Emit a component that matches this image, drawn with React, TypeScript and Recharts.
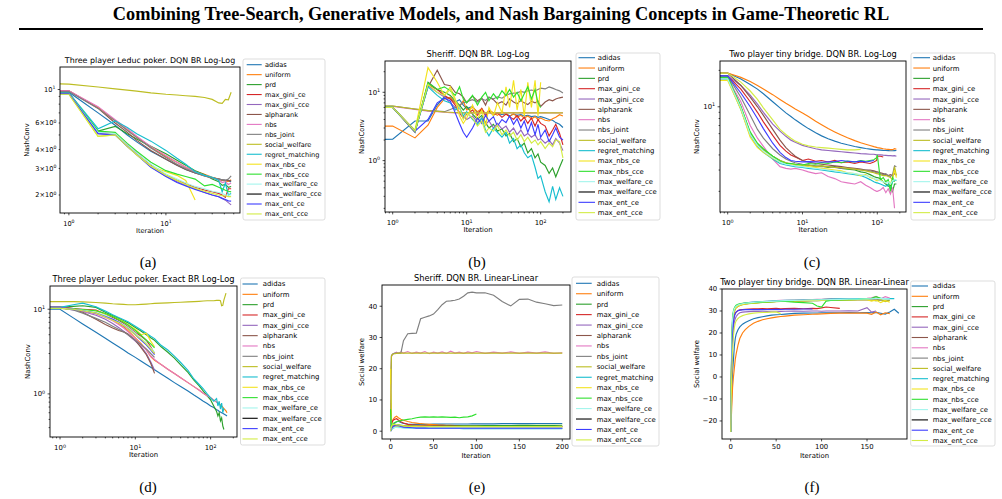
import { LineChart, Line, XAxis, YAxis } from 'recharts';

const METHODS = [
  'adidas', 'uniform', 'prd', 'max_gini_ce', 'max_gini_cce', 'alpharank', 'nbs', 'nbs_joint',
  'social_welfare', 'regret_matching', 'max_nbs_ce', 'max_nbs_cce', 'max_welfare_ce',
  'max_welfare_cce', 'max_ent_ce', 'max_ent_cce',
];
const COLORS = [
  '#1f77b4', '#ff7f0e', '#2ca02c', '#d62728', '#9467bd', '#8c564b', '#e377c2', '#7f7f7f',
  '#bcbd22', '#17becf', '#f3e31f', '#2fe02f', '#a3f5ec', '#000000', '#3d3dff', '#d3ec45',
];

// rows follow METHODS order; a short row stops early, an empty row has no run

// (a) three player Leduc poker, DQN best response
const leducDqnIters = [0.8, 1, 2, 3, 4, 5, 7, 10, 13, 16, 20, 25, 30, 35, 38, 41, 44, 47];
const leducDqnNashConv: number[][] = [
  [9.6, 9.6, 7.0, 5.8, 5.0, 4.5, 3.9, 3.45, 3.15, 2.95, 2.8, 2.7, 2.6, 2.55, 2.52, 2.5, 2.47, 2.45],
  [9.8, 9.8, 7.6, 6.2, 5.4, 4.85, 4.15, 3.6, 3.3, 3.05, 2.88, 2.74, 2.62, 2.55, 2.5, 2.48, 2.46, 2.52],
  [9.5, 9.5, 5.3, 5.7, 5.1, 4.7, 4.2, 3.75, 3.4, 3.15, 2.9, 2.72, 2.55, 2.45, 2.32, 2.35, 2.25, 2.28],
  [9.5, 9.5, 5.2, 5.1, 4.3, 3.8, 3.15, 2.72, 2.5, 2.38, 2.25, 2.16, 2.1, 2.05, 2.0, 1.93, 2.2, 2.2],
  [9.4, 9.4, 5.1, 5.0, 4.2, 3.7, 3.08, 2.66, 2.45, 2.32, 2.2, 2.08, 2.0, 1.95, 1.9, 1.85, 1.78, 1.72],
  [9.8, 9.8, 7.5, 6.0, 5.2, 4.6, 3.95, 3.45, 3.15, 2.95, 2.8, 2.68, 2.6, 2.55, 2.52, 2.5, 2.5, 2.48],
  [9.8, 9.8, 7.7, 6.3, 5.5, 4.9, 4.2, 3.65, 3.3, 3.05, 2.85, 2.7, 2.6, 2.52, 2.42, 2.45, 2.35, 2.4],
  [9.7, 9.7, 7.5, 6.2, 5.35, 4.8, 4.1, 3.55, 3.2, 3.0, 2.82, 2.68, 2.6, 2.55, 2.52, 2.5, 2.55, 2.68],
  [10.9, 10.85, 10.4, 10.1, 9.9, 9.75, 9.5, 9.3, 9.2, 9.1, 9.0, 8.85, 8.6, 8.15, 8.1, 8.6, 8.55, 9.6],
  [9.5, 9.5, 5.5, 6.2, 5.6, 5.1, 4.55, 3.95, 3.5, 3.2, 2.85, 2.7, 2.62, 2.5, 2.1, 2.4, 2.0, 2.05],
  [9.3, 9.3, 4.9, 5.0, 4.2, 3.7, 3.1, 2.85, 2.7, 2.5, 1.85],
  [9.4, 9.4, 5.3, 5.2, 4.4, 3.9, 3.3, 2.9, 2.75, 2.65, 2.55, 2.3, 2.35, 2.25, 2.2, 2.15, 2.12, 2.1],
  [9.4, 9.4, 5.2, 5.1, 4.3, 3.8, 3.2, 2.75, 2.55, 2.4, 2.28, 2.2, 2.12, 2.08, 2.05, 2.0, 2.0, 2.0],
  [],
  [9.4, 9.4, 5.1, 5.0, 4.2, 3.7, 3.05, 2.65, 2.42, 2.3, 2.18, 2.08, 2.0, 1.95, 1.9, 1.87, 1.83, 1.82],
  [9.3, 9.3, 4.9, 5.0, 4.2, 3.7, 3.1, 2.7, 2.5, 2.35, 2.22, 2.12, 2.05, 2.0, 1.98, 1.97, 1.95, 1.95],
];

// (b) Sheriff, DQN best response
const sheriffIters = [0.78, 1, 2, 3, 4, 5, 6, 7, 8, 9, 10, 12, 14, 16, 18, 20, 23, 26, 30, 34, 38, 43, 48, 54, 60, 67, 75, 84, 92, 100, 115, 130, 145, 160, 180, 200];
const sheriffNashConv: number[][] = [
  [2.05, 2.06, 3.8, 3.8, 6.5, 8.6, 8.0, 7.2, 7.8, 6.5, 5.8, 6.2, 5.0, 5.6, 4.8, 5.3, 4.6, 5.0, 4.7, 4.9, 4.5, 4.8, 4.6, 4.7, 4.5, 4.6, 4.4, 4.5, 4.3, 4.4, 4.2, 4.0, 3.9, 3.6, 3.4, 3.05],
  [3.2, 3.2, 2.15, 3.3, 6.0, 8.0, 8.5, 7.0, 6.2, 7.5, 5.5, 6.0, 5.2, 5.8, 4.8, 5.5, 5.0, 4.6, 5.2, 4.8, 4.4, 4.9, 4.3, 4.6, 4.2, 4.5, 4.1, 4.4, 4.0, 4.2, 3.9, 3.8, 4.1, 4.3, 4.7, 4.5],
  [6.0, 6.0, 2.6, 14.0, 11.0, 10.0, 9.0, 7.5, 6.5, 5.5, 6.2, 4.8, 4.0, 4.6, 3.6, 3.0, 3.4, 2.7, 2.9, 2.3, 2.5, 1.9, 2.1, 1.6, 1.8, 1.3, 1.5, 1.1, 1.25, 0.95, 0.85, 0.65, 0.78, 0.58, 0.8, 1.05],
  [6.0, 6.0, 2.7, 13.0, 11.0, 9.0, 8.0, 6.5, 5.0, 4.2, 4.8, 5.5, 4.6, 5.8, 4.5, 5.2, 4.7, 5.0, 4.3, 4.8, 4.4, 4.0, 4.6, 3.8, 4.3, 3.5, 4.2, 3.2, 4.0, 3.5, 3.2, 2.3, 2.8, 3.4, 2.5, 1.7],
  [6.0, 6.0, 2.6, 12.5, 10.0, 8.5, 7.0, 6.0, 5.0, 4.5, 4.0, 4.5, 3.6, 4.2, 3.4, 3.8, 3.0, 3.5, 2.9, 3.2, 2.6, 3.0, 2.4, 2.8, 2.3, 2.5, 2.2, 2.4, 2.0, 2.1, 1.8, 2.0, 1.7, 2.1, 1.8, 1.4],
  [6.0, 6.0, 2.7, 12.0, 21.0, 13.0, 12.5, 10.0, 9.5, 8.5, 7.0, 8.8, 7.5, 8.2, 6.5, 8.5, 7.8, 6.8, 7.3, 6.5, 8.0, 7.2, 6.8, 7.6, 7.0, 6.6, 7.4, 7.0, 7.5, 6.2, 7.2, 7.8, 7.5, 8.0, 8.3, 8.5],
  [6.2, 6.2, 5.6, 5.3, 5.2, 5.1, 5.05, 5.0, 5.0, 5.02, 4.98, 5.0, 5.03, 4.97, 5.0, 5.02, 4.98, 5.0, 5.03, 4.98, 5.0, 5.02, 4.97, 5.0, 5.03, 4.98, 5.0, 5.02, 4.98, 5.0, 5.03, 4.97, 5.0, 5.02, 4.98, 5.0],
  [6.3, 6.3, 5.7, 5.4, 5.3, 5.2, 5.6, 6.0, 6.5, 7.0, 7.3, 7.8, 7.2, 8.0, 7.6, 8.4, 8.0, 8.6, 8.2, 9.0, 9.5, 9.7, 9.8, 10.3, 10.0, 10.5, 10.8, 10.5, 11.0, 11.5, 11.2, 12.0, 11.5, 11.0, 10.5, 9.8],
  [6.3, 6.3, 5.7, 5.4, 5.25, 5.15, 5.1, 5.05, 5.02, 5.0, 5.0, 5.0, 5.0, 5.0, 5.0, 5.0, 5.0, 5.0, 5.0, 5.0, 5.0, 5.0, 5.0, 5.0, 5.0, 5.0, 5.0, 5.0, 5.0, 5.0, 5.0, 5.0, 5.0, 5.0, 5.0, 5.0],
  [6.0, 6.0, 2.7, 12.0, 9.0, 7.5, 7.0, 5.5, 6.0, 4.5, 5.2, 4.0, 3.4, 4.2, 2.8, 2.3, 3.0, 2.6, 2.2, 2.6, 1.8, 2.1, 1.5, 1.7, 1.3, 1.1, 1.2, 0.8, 0.55, 0.6, 0.35, 0.25, 0.42, 0.27, 0.4, 0.3],
  [6.0, 6.0, 2.8, 23.0, 14.0, 9.0, 12.0, 8.0, 4.5, 3.5, 4.2, 6.5, 4.0, 5.5, 3.2, 6.0, 4.5, 7.0, 5.0, 12.0, 6.0, 15.0, 5.5, 11.0, 4.5, 14.0, 6.0, 15.0, 4.5, 14.0],
  [6.0, 6.0, 2.7, 13.5, 11.0, 12.0, 10.5, 9.0, 12.0, 8.0, 7.0, 9.0, 6.5, 8.5, 10.0, 7.5, 9.5, 8.0, 10.5, 9.0, 11.0, 8.5, 10.0, 7.5, 9.5, 12.0, 8.0, 11.0, 7.0, 6.0],
  [],
  [],
  [6.0, 6.0, 2.7, 4.0, 7.0, 8.2, 7.5, 5.0, 3.5, 2.6, 2.2, 3.0, 4.2, 3.5, 4.6, 3.8, 4.4, 3.2, 4.0, 3.6, 4.5, 3.4, 4.1, 3.0, 3.8, 2.6, 3.6, 2.4, 3.4, 2.2, 2.8, 1.9, 2.4, 3.0, 2.2, 2.0],
  [6.0, 6.0, 2.7, 13.0, 10.0, 9.0, 11.0, 7.5, 6.0, 4.0, 5.0, 4.2, 3.2, 3.8, 2.6, 3.0, 2.7, 3.3, 2.4, 2.8, 2.3, 2.6, 2.0, 2.4, 1.9, 2.2, 1.8, 2.0, 1.7, 1.9, 1.5, 1.8, 1.6, 2.0, 1.9, 1.1],
];

// (c) two player tiny bridge, DQN best response
const bridgeIters = [0.78, 1, 1.5, 2, 2.5, 3, 4, 5, 6, 7, 8, 10, 12, 15, 18, 22, 27, 33, 40, 50, 60, 70, 80, 90, 98, 100, 110, 120, 130, 140, 150, 160, 170, 180];
const bridgeNashConv: number[][] = [
  [19, 19, 17, 15.3, 14, 12.8, 11, 9.8, 8.9, 8.3, 7.8, 7.1, 6.6, 6.1, 5.75, 5.45, 5.2, 5.0, 4.85, 4.7, 4.6, 4.52, 4.47, 4.43, 4.4, 4.4, 4.38, 4.36, 4.35, 4.34, 4.33, 4.33, 4.34, 4.35],
  [19, 19, 17.5, 16.2, 15.0, 14.0, 12.6, 11.5, 10.7, 10.1, 9.6, 8.9, 8.3, 7.6, 7.1, 6.6, 6.2, 5.85, 5.55, 5.25, 5.05, 4.9, 4.78, 4.68, 4.62, 4.6, 4.55, 4.5, 4.47, 4.45, 4.43, 4.42, 4.5, 4.45],
  [18, 18, 10, 6.0, 4.9, 4.4, 3.9, 3.6, 3.45, 3.35, 3.3, 3.25, 3.3, 3.2, 3.25, 3.15, 3.2, 3.1, 3.05, 3.0, 2.9, 2.85, 2.75, 2.65, 2.6, 2.6, 2.55, 2.4, 2.3, 2.2, 2.25, 2.0, 2.3, 2.3],
  [18, 18, 14, 11, 9, 7.5, 5.8, 4.8, 4.3, 4.0, 3.85, 3.6, 3.7, 3.55, 3.6, 3.5, 3.6, 3.45, 3.5, 3.4, 3.5, 3.45, 3.4, 3.5, 3.6, 3.9, 3.9, 3.85],
  [18, 18, 15, 12.5, 10.5, 9, 7.2, 6.3, 5.7, 5.3, 5.1, 4.8, 4.65, 4.5, 4.4, 4.35, 4.3, 4.25, 4.2, 4.15, 4.1, 4.08, 4.05, 4.05, 4.0, 4.0, 4.0, 3.98, 3.97, 3.95, 3.95, 3.93, 3.95, 3.9],
  [19, 19, 15, 12, 10, 8.5, 6.5, 5.3, 4.6, 4.2, 3.9, 3.6, 3.5, 3.4, 3.35, 3.3, 3.25, 3.2, 3.15, 3.1, 3.05, 3.0, 3.0, 2.95, 2.9, 2.9, 2.85, 2.8, 2.75, 2.7, 2.75, 2.7, 2.8, 2.75],
  [17, 17, 11, 7.0, 5.5, 4.7, 3.7, 3.2, 3.1, 3.05, 3.1, 3.0, 2.9, 2.8, 2.85, 2.65, 2.55, 2.4, 2.35, 2.3, 2.4, 2.25, 2.15, 2.05, 2.0, 2.0, 2.05, 2.15, 1.95, 2.1, 1.9, 2.15, 1.45],
  [18, 18, 12, 8.5, 6.5, 5.5, 4.5, 4.0, 3.7, 3.55, 3.45, 3.35, 3.3, 3.25, 3.2, 3.2, 3.15, 3.1, 3.1, 3.05, 3.0, 3.0, 2.95, 2.9, 2.85, 2.85, 2.8, 2.75, 2.8, 2.7, 2.65, 2.75, 3.25, 3.2],
  [17, 17, 10, 6.0, 4.9, 4.4, 3.9, 3.6, 3.45, 3.4, 3.35, 3.3, 3.3, 3.2, 3.25, 3.2, 3.15, 3.15, 3.1, 3.05, 3.0, 2.95, 2.9, 2.85, 2.8, 2.8, 2.75, 2.7, 2.7, 2.65, 2.6, 2.5, 3.2, 2.7],
  [17, 17, 9.5, 5.8, 4.7, 4.2, 3.7, 3.4, 3.3, 3.25, 3.2, 3.15, 3.1, 3.05, 3.0, 2.95, 2.9, 2.85, 2.8, 2.75, 2.7, 2.6, 2.5, 2.4, 2.35, 2.35, 2.3, 2.25, 2.2, 2.3, 2.1, 2.4, 2.5, 2.45],
  [16.5, 16.5, 9.5, 5.6, 4.6, 4.2, 3.75, 3.5, 3.4, 3.35, 3.3, 3.25, 3.2, 3.15, 3.1, 3.05, 3.0, 2.95, 2.85, 2.8, 2.7, 2.75, 2.6, 2.55, 2.45, 2.45, 2.5, 2.4, 2.35, 2.45, 2.3, 2.6, 3.0, 2.6],
  [17.5, 17.5, 10, 6.2, 5.0, 4.5, 3.9, 3.55, 3.4, 3.4, 3.35, 3.3, 3.4, 3.35, 3.45, 3.4, 3.5, 3.45, 3.55, 3.5, 3.6, 3.55, 3.6, 3.65, 3.8, 4.0, 2.5, 2.6, 2.4, 2.5, 2.0, 2.6, 2.4],
  [17, 17, 9.8, 5.9, 4.8, 4.3, 3.8, 3.5, 3.35, 3.3, 3.25, 3.2, 3.15, 3.1, 3.05, 3.0, 2.95, 2.9, 2.85, 2.8, 2.75, 2.7, 2.65, 2.55, 2.5, 2.5, 2.45, 2.4, 2.35, 2.4, 2.3, 2.45, 2.5, 2.5],
  [],
  [18, 18, 13, 10, 8, 6.6, 5.0, 4.2, 3.8, 3.6, 3.55, 3.5, 3.52, 3.5, 3.48, 3.5, 3.52, 3.6, 3.55, 3.5, 3.55, 3.5, 3.55, 3.6],
  [19, 19, 16, 13.5, 11.5, 9.8, 7.8, 6.5, 5.9, 5.5, 5.2, 4.9, 4.75, 4.65, 4.6, 4.55, 4.5, 4.45, 4.4, 4.4, 4.45],
];

// (d) three player Leduc poker, exact best response
const leducExactIters = [0.7, 1, 1.5, 2, 3, 4, 5, 6, 7, 8, 10, 12, 14, 16, 18, 22, 27, 33, 40, 50, 60, 70, 80, 90, 100, 110, 120, 125, 130, 135, 140, 145, 150, 160, 165];
const leducExactNashConv: number[][] = [
  [10, 10, 7.9, 6.7, 5.35, 4.55, 4.0, 3.6, 3.3, 3.05, 2.7, 2.43, 2.22, 2.06, 1.93, 1.72, 1.53, 1.36, 1.22, 1.08, 0.97, 0.89, 0.82, 0.77, 0.72, 0.69, 0.65, 0.64, 0.62, 0.61, 0.6, 0.59, 0.58, 0.56, 0.55],
  [10.5, 10.5, 10.0, 9.6, 9.0, 8.2, 7.5, 6.8, 6.2, 5.6, 4.6, 3.9, 3.3, 2.75, 2.5, 2.22, 1.96, 1.74, 1.55, 1.36, 1.22, 1.11, 1.02, 0.95, 0.9, 0.845, 0.8, 0.78, 0.76, 0.74, 0.72, 0.7, 0.67, 0.63, 0.6],
  [10.5, 10.5, 10.8, 11.0, 10.5, 9.2, 8.4, 7.8, 7.3, 6.9, 6.1, 5.5, 5.0, 4.6, 4.3, 3.6, 3.1, 2.65, 2.2, 1.8, 1.45, 1.25, 1.08, 0.95, 0.85, 0.72, 0.62, 0.55, 0.6, 0.48, 0.52, 0.42, 0.38],
  [10.5, 10.5, 10.2, 10.0, 9.8, 8.8, 8.0, 7.4, 6.8, 6.2, 5.3, 4.8, 4.3, 3.6, 3.0],
  [10.3, 10.3, 9.8, 9.4, 8.5, 7.6, 6.8, 6.1, 5.5, 5.0, 4.2, 3.6, 3.0, 2.4, 1.9],
  [10.6, 10.6, 10.2, 9.2, 7.6, 6.6, 6.0, 5.6, 5.4, 5.1, 4.3, 3.5, 2.9, 2.3, 1.75],
  [10.5, 10.5, 10.0, 9.5, 8.8, 8.0, 7.3, 6.6, 6.0, 5.4, 4.5, 3.8, 3.3, 2.8, 2.55, 2.22, 1.96, 1.74, 1.55, 1.36, 1.22, 1.11, 1.02, 0.95, 0.9, 0.845, 0.8, 0.78],
  [10.4, 10.4, 9.8, 9.0, 7.8, 7.0, 6.3, 5.8, 5.4, 5.0, 4.3, 3.8, 3.4, 3.0, 2.7],
  [12.3, 12.3, 12.3, 12.2, 12.0, 11.8, 11.6, 11.5, 11.4, 11.3, 11.3, 11.4, 11.5, 11.6, 11.7, 11.8, 11.9, 12.0, 12.1, 12.2, 12.3, 12.4, 12.5, 12.6, 12.6, 12.6, 12.7, 12.7, 12.7, 12.6, 11.0, 11.1, 12.8, 15.5],
  [10.5, 10.5, 11.3, 11.8, 10.7, 9.5, 8.6, 8.0, 7.5, 7.1, 6.3, 5.7, 5.2, 4.8, 4.5, 3.75, 3.3, 2.8, 2.35, 1.9, 1.5, 1.3, 1.15, 1.0, 0.9, 0.82, 0.88, 0.72, 0.82, 0.66, 0.78, 0.6, 0.68],
  [10.2, 10.2, 10.0, 9.8, 9.5, 8.8, 8.2, 7.6, 7.1, 6.6, 5.8, 5.0, 5.2, 4.2, 3.6],
  [10.3, 10.3, 10.1, 9.9, 9.6, 8.9, 8.2, 7.5, 7.0, 6.5, 5.6, 4.9, 4.3, 3.9, 3.5],
  [10.4, 10.4, 10.0, 9.7, 9.2, 8.4, 7.7, 7.1, 6.6, 6.1, 5.2, 4.5, 4.0, 3.5, 3.1],
  [],
  [10.5, 10.5, 10.0, 9.6, 9.0, 8.2, 7.6, 7.0, 6.4, 5.9, 5.0, 4.3, 3.8, 3.3, 2.9],
  [10.3, 10.3, 10.0, 9.6, 9.0, 8.1, 7.4, 6.9, 6.4, 5.9, 5.0, 4.4, 3.9, 3.4, 3.0],
];

// (e) Sheriff, social welfare
const sheriffWelfareIters = [0, 1, 2, 3, 5, 7, 9, 12, 15, 20, 25, 30, 35, 40, 45, 50, 55, 60, 65, 70, 75, 80, 85, 90, 95, 100, 110, 120, 130, 140, 150, 160, 170, 180, 190, 200];
const sheriffWelfare: number[][] = [
  [2, 1.2, 1.8, 2.2, 2.6, 3.0, 3.2, 2.8, 2.5, 2.3, 2.2, 2.2, 2.2, 2.2, 2.2, 2.25, 2.25, 2.25, 2.3, 2.3, 2.3, 2.3, 2.3, 2.3, 2.35, 2.35, 2.35, 2.35, 2.4, 2.4, 2.4, 2.4, 2.45, 2.45, 2.45, 2.45],
  [12, 2.0, 3.0, 3.8, 4.5, 4.8, 4.3, 3.8, 3.5, 3.1, 2.8, 2.6, 2.4, 2.3, 2.2, 2.1, 2.0, 1.95, 1.9, 1.85, 1.8, 1.8, 1.75, 1.75, 1.7, 1.7, 1.7, 1.65, 1.65, 1.65, 1.6, 1.6, 1.6, 1.6, 1.55, 1.55],
  [18, 0.5, 1.0, 1.5, 1.8, 2.0, 2.0, 1.9, 1.8, 1.8, 1.8, 1.75, 1.75, 1.75, 1.7, 1.7, 1.7, 1.7, 1.7, 1.7, 1.7, 1.7, 1.75, 1.75, 1.75, 1.75, 1.8, 1.8, 1.8, 1.8, 1.85, 1.85, 1.85, 1.85, 1.85, 1.9],
  [4, 2.5, 3.0, 3.5, 3.8, 4.0, 3.6, 3.0, 2.6, 2.2, 2.0, 1.9, 1.8, 1.7, 1.7, 1.6, 1.6, 1.6, 1.55, 1.55, 1.55, 1.5, 1.5, 1.5, 1.5, 1.5, 1.5, 1.5, 1.5, 1.5, 1.5, 1.5, 1.5, 1.5, 1.5, 1.5],
  [3, 0.8, 1.2, 1.4, 1.5, 1.5, 1.4, 1.3, 1.2, 1.15, 1.1, 1.1, 1.05, 1.05, 1.0, 1.0, 1.0, 1.0, 1.0, 1.0, 1.0, 1.0, 1.0, 1.0, 1.0, 1.0, 1.0, 1.0, 1.0, 1.0, 1.0, 1.0, 1.0, 1.0, 1.0, 1.0],
  [9, 1.0, 1.5, 2.0, 2.2, 2.0, 1.9, 1.8, 1.7, 1.6, 1.55, 1.5, 1.5, 1.5, 1.5, 1.45, 1.45, 1.45, 1.45, 1.45, 1.45, 1.45, 1.45, 1.45, 1.45, 1.45, 1.45, 1.45, 1.45, 1.45, 1.45, 1.45, 1.45, 1.45, 1.45, 1.45],
  [10, 23.8, 24.5, 24.8, 25.0, 25.3, 24.9, 25.4, 25.0, 25.5, 24.9, 25.3, 25.0, 25.5, 24.8, 25.3, 25.0, 25.4, 24.9, 25.6, 25.0, 25.3, 24.9, 25.4, 25.1, 25.5, 24.9, 25.3, 25.0, 25.4, 24.9, 25.3, 25.0, 25.4, 24.9, 25.1],
  [6, 24.2, 24.6, 24.8, 25.0, 25.0, 25.0, 25.0, 29.0, 31.2, 31.3, 31.4, 36.0, 36.5, 36.9, 37.5, 38.9, 40.5, 41.6, 41.7, 41.9, 42.3, 43.2, 44.3, 44.5, 44.3, 44.3, 43.5, 41.5, 40.1, 42.2, 42.3, 41.3, 40.8, 40.2, 40.4],
  [15, 24.0, 24.5, 24.7, 24.8, 24.9, 25.0, 25.0, 25.0, 25.0, 25.0, 25.0, 25.0, 25.0, 25.0, 25.0, 25.0, 25.0, 25.0, 25.0, 25.0, 25.0, 25.0, 25.0, 25.0, 25.0, 25.0, 25.0, 25.0, 25.0, 25.0, 25.0, 25.0, 25.0, 25.0, 25.0],
  [5, 0.5, 0.8, 1.0, 1.2, 1.3, 1.3, 1.2, 1.1, 1.0, 1.0, 0.95, 0.95, 0.9, 0.9, 0.9, 0.9, 0.85, 0.85, 0.85, 0.85, 0.85, 0.8, 0.8, 0.8, 0.8, 0.8, 0.8, 0.8, 0.8, 0.8, 0.8, 0.8, 0.8, 0.8, 0.8],
  [20, 1.0, 1.4, 1.6, 1.7, 1.8, 1.7, 1.6, 1.55, 1.5, 1.45, 1.45, 1.4, 1.4, 1.4, 1.4, 1.35, 1.35, 1.35, 1.35, 1.35, 1.35, 1.3, 1.3, 1.3, 1.3, 1.3, 1.3, 1.3, 1.3, 1.3, 1.3, 1.3, 1.3, 1.3, 1.3],
  [7, 1.5, 2.0, 2.5, 2.8, 3.0, 3.2, 3.4, 3.6, 3.8, 4.0, 4.3, 4.5, 4.6, 4.5, 4.6, 4.5, 4.6, 4.5, 4.4, 4.5, 4.3, 4.5, 4.6, 4.9, 5.5],
  [1, 0.6, 0.9, 1.1, 1.2, 1.2, 1.15, 1.1, 1.05, 1.0, 1.0, 1.0, 1.0, 1.0, 1.0, 1.0, 1.0, 1.0, 1.0, 1.0, 1.0, 1.0, 1.0, 1.0, 1.0, 1.0, 1.0, 1.0, 1.0, 1.0, 1.0, 1.0, 1.0, 1.0, 1.0, 1.0],
  [],
  [0, 0.8, 1.2, 1.5, 1.8, 2.0, 1.8, 1.5, 1.3, 1.2, 1.1, 1.0, 1.0, 1.0, 0.95, 0.95, 0.95, 0.95, 0.95, 0.95, 0.95, 0.95, 0.95, 0.95, 0.95, 0.95, 0.95, 0.95, 0.95, 0.95, 0.95, 0.95, 0.95, 0.95, 0.95, 0.95],
  [0, 1.5, 2.0, 2.2, 2.2, 2.1, 2.0, 1.9, 1.8, 1.7, 1.65, 1.6, 1.6, 1.55, 1.55, 1.5, 1.5, 1.5, 1.5, 1.5, 1.5, 1.5, 1.5, 1.5, 1.5, 1.5, 1.5, 1.5, 1.5, 1.5, 1.5, 1.5, 1.5, 1.5, 1.5, 1.5],
];

// (f) two player tiny bridge, social welfare
const bridgeWelfareIters = [0, 1, 2, 3, 4, 5, 6, 8, 10, 13, 16, 20, 25, 30, 35, 40, 45, 50, 55, 60, 70, 80, 90, 95, 100, 105, 110, 120, 130, 140, 150, 155, 160, 165, 170, 175, 180, 185];
const bridgeWelfare: number[][] = [
  [-25, -10, 2, 7.7, 14, 17.5, 19.5, 21.5, 22.8, 24.0, 24.8, 25.6, 26.5, 27.0, 27.4, 27.8, 28.1, 28.3, 28.4, 28.6, 28.9, 29.0, 29.1, 29.1, 29.2, 29.2, 29.2, 29.2, 29.3, 29.2, 29.3, 29.2, 29.4, 29.0, 28.6, 29.5, 30.8, 29.0],
  [-25, -15, -5, 0, 4, 8, 10.5, 14.5, 17.5, 20, 21.5, 23.0, 24.4, 25.3, 26.0, 26.5, 26.9, 27.2, 27.5, 27.7, 28.1, 28.3, 28.5, 28.6, 28.7, 28.8, 28.9, 29.0, 29.0, 29.1, 29.0, 28.5, 29.5, 28.3, 29.2, 28.8],
  [-25, 10, 25, 29, 30.5, 31.2, 31.8, 32.4, 32.8, 33.2, 33.4, 33.6, 33.8, 34.0, 34.2, 34.3, 34.4, 34.5, 34.6, 34.7, 34.9, 35.0, 35.1, 35.2, 35.2, 35.3, 35.4, 35.5, 35.5, 35.6, 35.7, 35.5, 35.8, 35.6, 35.7, 35.6],
  [-25, 5, 20, 26, 28, 29, 29.6, 30.2, 30.5, 30.7, 30.8, 30.9, 31.0, 31.0, 31.1, 31.0, 31.1, 31.2, 31.0, 31.1, 31.2, 31.0, 31.2, 31.1, 31.4, 31.8, 31.6, 31.2],
  [-25, 0, 15, 22, 25, 26.5, 27.5, 28.6, 29.2, 29.5, 29.6, 29.7, 29.8, 29.8, 29.9, 29.8, 29.9, 29.9, 29.8, 29.9, 30.0, 29.9, 30.0, 30.0, 29.9, 30.0, 30.0, 30.0, 30.1, 30.0, 31.5, 29.5, 30.0],
  [-25, 8, 24, 28.5, 30, 31, 31.6, 32.2, 32.7, 33.1, 33.3, 33.5, 33.7, 33.9, 34.0, 34.1, 34.2, 34.3, 34.4, 34.5, 34.6, 34.7, 34.8, 34.8, 34.9, 34.9, 35.0, 35.0, 35.1, 35.1, 35.2, 35.0, 35.3, 35.1],
  [-25, 9, 25, 29, 30.6, 31.4, 32, 32.6, 33, 33.4, 33.6, 33.8, 34.0, 34.2, 34.3, 34.4, 34.5, 34.7, 34.8, 34.9, 35.0, 35.1, 35.2, 35.3, 35.3, 35.4, 35.5, 35.5, 35.6, 35.7, 35.8, 36.0, 36.6, 35.5, 36.5, 35.9],
  [-25, 7, 23, 28, 30, 31, 31.6, 32.2, 32.6, 33.0, 33.2, 33.4, 33.6, 33.8, 34.0, 34.1, 34.2, 34.3, 34.3, 34.4, 34.5, 34.6, 34.7, 34.7, 34.8, 34.8, 34.9, 35.0, 35.0, 35.1, 35.1, 35.2, 34.8, 35.0, 34.6, 34.8],
  [-25, 6, 23, 28, 30, 31, 31.5, 32.1, 32.5, 32.9, 33.1, 33.3, 33.5, 33.7, 33.9, 34.0, 34.1, 34.2, 34.3, 34.4, 34.5, 34.6, 34.7, 34.7, 34.8, 34.8, 34.9, 35.0, 35.0, 35.1, 35.1, 35.0, 34.6, 35.2, 34.2, 34.8],
  [-25, 11, 26, 29.5, 31, 31.8, 32.3, 32.8, 33.1, 33.4, 33.6, 33.8, 34.0, 34.2, 34.3, 34.4, 34.5, 34.6, 34.7, 34.8, 34.9, 35.0, 35.1, 35.2, 35.2, 35.3, 35.4, 35.5, 35.5, 35.6, 35.6, 35.7, 35.7, 35.8, 35.6, 35.7, 35.6],
  [-25, 8, 24, 28.5, 30.2, 31, 31.6, 32.2, 32.6, 33.0, 33.2, 33.4, 33.6, 33.8, 34.0, 34.1, 34.2, 34.3, 34.4, 34.5, 34.6, 34.7, 34.8, 34.8, 34.9, 34.9, 35.0, 35.0, 35.0, 35.1, 35.1, 34.5, 35.0, 33.8, 34.8, 34.0],
  [-25, 12, 27, 30, 31.4, 32.1, 32.6, 33.0, 33.3, 33.5, 33.6, 33.7, 33.8, 33.9, 34.0, 34.1, 34.2, 34.3, 34.4, 34.4, 34.0, 33.8, 33.5, 32.3, 31.8, 34.5, 34.8, 35.0, 35.2, 35.3, 35.6, 35.8, 36.5, 35.8],
  [-25, 10, 26, 29.5, 31, 31.7, 32.2, 32.7, 33.0, 33.3, 33.5, 33.7, 33.9, 34.1, 34.2, 34.3, 34.4, 34.5, 34.6, 34.7, 34.8, 34.9, 35.0, 35.0, 35.1, 35.1, 35.2, 35.3, 35.4, 35.4, 35.5, 35.5, 35.6, 35.6, 35.6, 35.5],
  [],
  [-25, 2, 18, 25, 27.5, 28.8, 29.5, 30.1, 30.4, 30.5, 30.6, 30.6, 30.6, 30.7, 30.6, 30.7, 30.7, 30.8, 30.7, 30.8, 30.8, 30.9, 30.9],
  [-25, 0, 12, 19, 22.5, 24.5, 25.5, 26.6, 27.3, 27.9, 28.3, 28.7, 29.0, 29.2, 29.3, 29.4, 29.5, 29.6, 28.8],
];

const SANS = '"DejaVu Sans", sans-serif';
const SERIF = '"Liberation Serif", "Times New Roman", serif';

type AxisSpec = { log: boolean; domain: [number, number]; ticks: number[]; labelled: number[] };
type Box = { x: number; y: number; w: number; h: number };
type LegendSpec = Box & { row0: number; step: number; sw0: number; sw1: number; tx: number };
type PanelSpec = {
  tag: string; title: string; ylabel: string; fs: number;
  iters: number[]; values: number[][];
  frame: Box; x: AxisSpec; y: AxisSpec;
  ylabX: number; xlabDy: number; legend: LegendSpec; caption: [number, number];
};

const isPow10 = (v: number) => Math.abs(Math.log10(v) - Math.round(Math.log10(v))) < 1e-9;

// 1..9 x 10^k positions inside the range, the way matplotlib places log ticks
function logTicks(lo: number, hi: number) {
  const out: number[] = [];
  for (let e = Math.floor(Math.log10(lo)); e <= Math.ceil(Math.log10(hi)); e++) {
    for (let m = 1; m < 10; m++) {
      const v = +(m * Math.pow(10, e)).toPrecision(3);
      if (v >= lo && v <= hi) out.push(v);
    }
  }
  return out;
}
const logAxis = (domain: [number, number], labelled: number[]): AxisSpec =>
  ({ log: true, domain, ticks: logTicks(domain[0], domain[1]), labelled });
const linAxis = (domain: [number, number], ticks: number[]): AxisSpec =>
  ({ log: false, domain, ticks, labelled: ticks });

function tickText(axis: AxisSpec, v: number): [string, string] | null {
  if (!axis.labelled.some((l) => Math.abs(l - v) < 1e-9)) return null;
  if (!axis.log) return [v < 0 ? `\u2212${-v}` : String(v), ''];
  const e = Math.floor(Math.log10(v) + 1e-9);
  const m = Math.round(v / Math.pow(10, e));
  return [m === 1 ? '10' : `${m}\u00d710`, String(e)];
}

function renderTick(props: any, axis: AxisSpec, side: 'x' | 'y', fs: number) {
  const { x, y, payload } = props;
  const v = payload.value as number;
  const major = !axis.log || isPow10(v);
  const len = fs * (major ? 0.35 : 0.2);
  const pad = fs * 0.35;
  const t = tickText(axis, v);
  const sup = t && t[1] ? <tspan dy={-fs * 0.42} fontSize={fs * 0.7}>{t[1]}</tspan> : null;
  if (side === 'x') {
    return (
      <g>
        <line x1={x} x2={x} y1={y} y2={y + len} stroke="#000" strokeWidth={0.7} />
        {t && (
          <text x={x} y={y + len + pad + fs * (axis.log ? 1.25 : 0.8)} textAnchor="middle" fontSize={fs} fontFamily={SANS} fill="#000">
            {t[0]}{sup}
          </text>
        )}
      </g>
    );
  }
  return (
    <g>
      <line x1={x - len} x2={x} y1={y} y2={y} stroke="#000" strokeWidth={0.7} />
      {t && (
        <text x={x - len - pad} y={y + fs * 0.36} textAnchor="end" fontSize={fs} fontFamily={SANS} fill="#000">
          {t[0]}{sup}
        </text>
      )}
    </g>
  );
}

const PANELS: PanelSpec[] = [
  {
    tag: '(a)', title: 'Three player Leduc poker. DQN BR Log-Log', ylabel: 'NashConv', fs: 6.6,
    iters: leducDqnIters, values: leducDqnNashConv,
    frame: { x: 60, y: 67, w: 180, h: 146 },
    x: logAxis([0.81, 58], [1, 10]), y: logAxis([1.52, 14.1], [2, 3, 4, 6, 10]),
    ylabX: 27, xlabDy: 18,
    legend: { x: 243, y: 59, w: 82, h: 161, row0: 64.7, step: 9.95, sw0: 246.7, sw1: 261.7, tx: 265 },
    caption: [148, 267],
  },
  {
    tag: '(b)', title: 'Sheriff. DQN BR. Log-Log', ylabel: 'NashConv', fs: 6.9,
    iters: sheriffIters, values: sheriffNashConv,
    frame: { x: 385, y: 61, w: 186, h: 151 },
    x: logAxis([0.787, 257], [1, 10, 100]), y: logAxis([0.177, 28.7], [1, 10]),
    ylabX: 361.7, xlabDy: 18,
    legend: { x: 576, y: 53, w: 84, h: 167, row0: 57.7, step: 10.33, sw0: 578.5, sw1: 595, tx: 597.7 },
    caption: [477, 267],
  },
  {
    tag: '(c)', title: 'Two player tiny bridge. DQN BR. Log-Log', ylabel: 'NashConv', fs: 6.9,
    iters: bridgeIters, values: bridgeNashConv,
    frame: { x: 720, y: 61, w: 186, h: 151 },
    x: logAxis([0.789, 242], [1, 10, 100]), y: logAxis([1.35, 23.9], [10]),
    ylabX: 696.7, xlabDy: 18,
    legend: { x: 911, y: 53, w: 84, h: 167, row0: 57.7, step: 10.33, sw0: 913.3, sw1: 930, tx: 932.7 },
    caption: [812, 267],
  },
  {
    tag: '(d)', title: 'Three player Leduc poker. Exact BR Log-Log', ylabel: 'NashConv', fs: 6.9,
    iters: leducExactIters, values: leducExactNashConv,
    frame: { x: 50, y: 286, w: 187, h: 151 },
    x: logAxis([0.736, 224], [1, 10, 100]), y: logAxis([0.31, 18.8], [1, 10]),
    ylabX: 28, xlabDy: 18,
    legend: { x: 240.5, y: 278, w: 84.5, h: 167, row0: 284, step: 10.33, sw0: 242.5, sw1: 257.7, tx: 262.7 },
    caption: [148, 492],
  },
  {
    tag: '(e)', title: 'Sheriff. DQN BR. Linear-Linear', ylabel: 'Social welfare', fs: 6.9,
    iters: sheriffWelfareIters, values: sheriffWelfare,
    frame: { x: 382, y: 285, w: 188, h: 154 },
    x: linAxis([-10, 209], [0, 50, 100, 150, 200]), y: linAxis([-2.5, 46.8], [0, 10, 20, 30, 40]),
    ylabX: 362.3, xlabDy: 16.3,
    legend: { x: 572, y: 277, w: 87, h: 169, row0: 283.3, step: 10.44, sw0: 576, sw1: 591.7, tx: 596.7 },
    caption: [477, 492],
  },
  {
    tag: '(f)', title: 'Two player tiny bridge. DQN BR. Linear-Linear', ylabel: 'Social welfare', fs: 6.9,
    iters: bridgeWelfareIters, values: bridgeWelfare,
    frame: { x: 722, y: 289, w: 185, h: 150 },
    x: linAxis([-9.6, 194], [0, 50, 100, 150]), y: linAxis([-28.2, 40], [-20, -10, 0, 10, 20, 30, 40]),
    ylabX: 697.3, xlabDy: 16.7,
    legend: { x: 910.7, y: 281, w: 84.3, h: 165, row0: 286, step: 10.3, sw0: 911.7, sw1: 928, tx: 932.7 },
    caption: [812, 492],
  },
];

const YW = 40;
const MT = 4;
const XH = 26;
const MR = 2;

function Panel({ p }: { p: PanelSpec }) {
  const f = p.frame;
  return (
    <div style={{ position: 'absolute', left: f.x - YW, top: f.y - MT }}>
      <LineChart width={YW + f.w + MR} height={MT + f.h + XH} margin={{ top: MT, right: MR, bottom: 0, left: 0 }}>
        <XAxis
          dataKey="x" type="number" scale={p.x.log ? 'log' : 'linear'} domain={p.x.domain} allowDataOverflow
          ticks={p.x.ticks} interval={0} axisLine={false} tickLine={false} tickSize={0} tickMargin={0} height={XH}
          tick={(t: any) => renderTick(t, p.x, 'x', p.fs)}
        />
        <YAxis
          type="number" scale={p.y.log ? 'log' : 'linear'} domain={p.y.domain} allowDataOverflow
          ticks={p.y.ticks} interval={0} axisLine={false} tickLine={false} tickSize={0} tickMargin={0} width={YW}
          tick={(t: any) => renderTick(t, p.y, 'y', p.fs)}
        />
        {METHODS.map((m, i) =>
          p.values[i].length ? (
            <Line
              key={m} name={m} data={p.values[i].map((v, j) => ({ x: p.iters[j], y: v }))} dataKey="y"
              stroke={COLORS[i]} strokeWidth={1.15} dot={false} activeDot={false} isAnimationActive={false}
            />
          ) : null,
        )}
      </LineChart>
    </div>
  );
}

function Decorations({ p }: { p: PanelSpec }) {
  const f = p.frame;
  const L = p.legend;
  const cx = f.x + f.w / 2;
  const cy = f.y + f.h / 2;
  return (
    <g fontFamily={SANS} fill="#000">
      <rect x={f.x} y={f.y} width={f.w} height={f.h} fill="none" stroke="#000" strokeWidth={0.9} />
      <text x={cx} y={f.y - 4} textAnchor="middle" fontSize={p.fs * 1.2}>{p.title}</text>
      <text x={cx} y={f.y + f.h + p.xlabDy + p.fs * 0.36} textAnchor="middle" fontSize={p.fs}>Iteration</text>
      <text x={p.ylabX} y={cy} transform={`rotate(-90 ${p.ylabX} ${cy})`} textAnchor="middle" dominantBaseline="central" fontSize={p.fs}>
        {p.ylabel}
      </text>
      <rect x={L.x} y={L.y} width={L.w} height={L.h} rx={2} fill="#fff" fillOpacity={0.8} stroke="#d4d4d4" strokeWidth={0.8} />
      {METHODS.map((m, i) => {
        const ry = L.row0 + i * L.step;
        return (
          <g key={m}>
            <line x1={L.sw0} x2={L.sw1} y1={ry} y2={ry} stroke={COLORS[i]} strokeWidth={1.1} />
            <text x={L.tx} y={ry + p.fs * 0.36} fontSize={p.fs}>{m}</text>
          </g>
        );
      })}
      <text x={p.caption[0]} y={p.caption[1]} textAnchor="middle" fontFamily={SERIF} fontSize={15}>{p.tag}</text>
    </g>
  );
}

export default function App() {
  return (
    <div style={{ position: 'absolute', left: 0, top: 0, width: 1002, height: 499, background: '#fff', overflow: 'hidden' }}>
      {PANELS.map((p) => <Panel key={p.tag} p={p} />)}
      <svg width={1002} height={499} style={{ position: 'absolute', left: 0, top: 0, pointerEvents: 'none' }}>
        <text x={501} y={20} textAnchor="middle" fontFamily={SERIF} fontWeight="bold" fontSize={18.3}>
          Combining Tree-Search, Generative Models, and Nash Bargaining Concepts in Game-Theoretic RL
        </text>
        <rect x={19} y={28} width={964} height={2} fill="#000" />
        {PANELS.map((p) => <Decorations key={p.tag} p={p} />)}
      </svg>
    </div>
  );
}
